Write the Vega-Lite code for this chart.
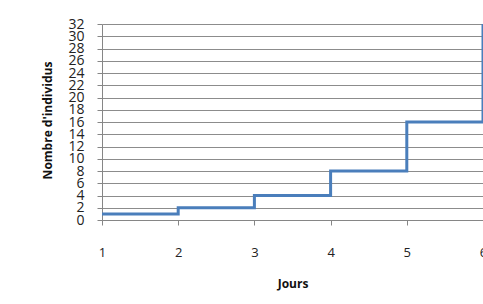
{
  "$schema": "https://vega.github.io/schema/vega-lite/v6.json",
  "autosize": "none",
  "width": 381,
  "height": 196,
  "padding": {"left": 102, "top": 24, "right": 0, "bottom": 84},
  "background": "white",
  "config": {
    "view": {"stroke": null},
    "font": "Open Sans"
  },
  "data": {
    "values": [
      {"jour": 1, "n": 1},
      {"jour": 2, "n": 2},
      {"jour": 3, "n": 4},
      {"jour": 4, "n": 8},
      {"jour": 5, "n": 16},
      {"jour": 6, "n": 32}
    ]
  },
  "mark": {"type": "line", "interpolate": "step-after", "color": "#4a7ebb", "strokeWidth": 3, "clip": false},
  "encoding": {
    "x": {
      "field": "jour",
      "type": "quantitative",
      "scale": {"domain": [1, 6], "nice": false, "zero": false},
      "axis": {
        "title": "Jours",
        "values": [1, 2, 3, 4, 5, 6],
        "format": "d",
        "grid": false,
        "domainColor": "#868686",
        "tickColor": "#868686",
        "tickSize": 5,
        "labelFontSize": 13,
        "labelColor": "#222222",
        "labelPadding": 21,
        "labelFlush": false,
        "labelOverlap": false,
        "titleFontSize": 12,
        "titleFontWeight": "bold",
        "titleColor": "#111111",
        "titlePadding": 19
      }
    },
    "y": {
      "field": "n",
      "type": "quantitative",
      "scale": {"domain": [0, 32], "nice": false},
      "axis": {
        "title": "Nombre d'individus",
        "values": [0, 2, 4, 6, 8, 10, 12, 14, 16, 18, 20, 22, 24, 26, 28, 30, 32],
        "grid": true,
        "gridColor": "#8c8c8c",
        "gridWidth": 1,
        "domainColor": "#868686",
        "tickColor": "#868686",
        "tickSize": 5,
        "labelFontSize": 14,
        "labelColor": "#222222",
        "labelPadding": 13,
        "labelOverlap": false,
        "labelFlush": false,
        "titleFontSize": 12,
        "titleFontWeight": "bold",
        "titleColor": "#111111",
        "titleX": -55,
        "titleY": 96,
        "titleBaseline": "middle",
        "titleAngle": -90
      }
    }
  }
}
